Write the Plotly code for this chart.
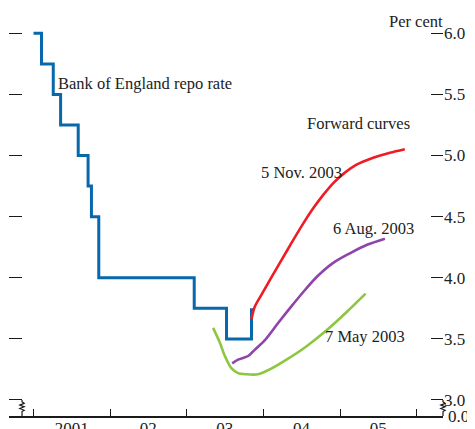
import plotly.graph_objects as go

# Bank of England repo rate (step changes)
repo_dates = ["2001-01-01", "2001-02-08", "2001-04-05", "2001-05-10", "2001-08-02",
              "2001-09-18", "2001-10-04", "2001-11-08", "2003-02-06", "2003-07-10",
              "2003-11-06"]
repo_rate = [6.00, 5.75, 5.50, 5.25, 5.00, 4.75, 4.50, 4.00, 3.75, 3.50, 3.75]

# Forward curves
nov_dates = ["2003-11-06", "2003-11-21", "2003-12-30", "2004-02-11", "2004-03-30",
             "2004-05-08", "2004-07-10", "2004-08-27", "2004-10-14", "2004-11-30",
             "2005-01-17", "2005-03-21", "2005-06-08", "2005-08-27", "2005-11-06"]
nov_vals = [3.66, 3.76, 3.88, 4.01, 4.15, 4.265, 4.445, 4.57, 4.68, 4.775,
            4.85, 4.925, 4.982, 5.023, 5.052]

aug_dates = ["2003-08-06", "2003-09-03", "2003-10-21", "2003-11-21", "2004-01-09",
             "2004-03-12", "2004-05-16", "2004-07-18", "2004-09-14", "2004-11-28",
             "2005-02-17", "2005-05-10", "2005-08-03"]
aug_vals = [3.30, 3.33, 3.36, 3.41, 3.49, 3.63, 3.77, 3.90, 4.01, 4.12, 4.20, 4.27, 4.32]

may_dates = ["2003-05-07", "2003-06-08", "2003-07-02", "2003-08-02", "2003-09-03",
             "2003-10-13", "2003-12-07", "2004-02-01", "2004-04-21", "2004-07-26",
             "2004-10-29", "2005-02-02", "2005-05-03"]
may_vals = [3.59, 3.47, 3.36, 3.26, 3.22, 3.21, 3.21, 3.25, 3.33, 3.44, 3.57, 3.72, 3.87]

year_ticks = ["2001-01-01", "2002-01-01", "2003-01-01", "2004-01-01", "2005-01-01", "2006-01-01"]
label_pos = ["2001-07-02", "2002-07-02", "2003-07-02", "2004-07-02", "2005-07-02"]
label_text = ["2001", "02", "03", "04", "05"]
y_ticks = [3.0, 3.5, 4.0, 4.5, 5.0, 5.5, 6.0]
y_text = ["3.0", "3.5", "4.0", "4.5", "5.0", "5.5", "6.0"]

FONT = "Liberation Serif"
TXT = "#222222"
BLUE = "#0868AC"
RED = "#EE1C25"
PURPLE = "#8E44A8"
GREEN = "#8DC63F"

fig = go.Figure()
fig.add_trace(go.Scatter(x=repo_dates, y=repo_rate, mode="lines", line_shape="hv",
                         line=dict(color=BLUE, width=3), hoverinfo="skip"))
fig.add_trace(go.Scatter(x=may_dates, y=may_vals, mode="lines", line_shape="spline",
                         line=dict(color=GREEN, width=2.6, smoothing=0.8), hoverinfo="skip"))
fig.add_trace(go.Scatter(x=aug_dates, y=aug_vals, mode="lines", line_shape="spline",
                         line=dict(color=PURPLE, width=2.6, smoothing=0.8), hoverinfo="skip"))
fig.add_trace(go.Scatter(x=nov_dates, y=nov_vals, mode="lines", line_shape="spline",
                         line=dict(color=RED, width=2.6, smoothing=0.8), hoverinfo="skip"))
# invisible trace for left-side ticks
fig.add_trace(go.Scatter(x=[repo_dates[0]], y=[repo_rate[0]], yaxis="y2", mode="markers",
                         marker=dict(opacity=0), hoverinfo="skip"))

YMIN, YMAX = 2.869, 6.109

# the page body adds an 8px offset, margins compensate for it
fig.update_layout(
    width=475, height=429,
    margin=dict(l=1, r=40, t=12, b=21, autoexpand=False),
    paper_bgcolor="white", plot_bgcolor="white",
    showlegend=False,
    font=dict(family=FONT, size=16, color=TXT),
    xaxis=dict(type="date", range=["2000-09-06", "2006-05-07"], automargin=False,
               showgrid=False, zeroline=False,
               showline=True, linecolor="#1a1a1a", linewidth=1.5,
               tickmode="array", tickvals=label_pos, ticktext=label_text, ticks="",
               ticklabelstandoff=-4,
               tickfont=dict(family=FONT, size=17, color=TXT),
               minor=dict(tickmode="array", tickvals=year_ticks, ticks="inside",
                          ticklen=7, tickwidth=1.3, tickcolor="#1a1a1a", showgrid=False)),
    yaxis=dict(range=[YMIN, YMAX], side="right", showgrid=False, zeroline=False,
               automargin=False,
               showline=False, tickmode="array", tickvals=y_ticks, ticktext=y_text,
               ticks="inside", ticklen=12, tickwidth=1.3, tickcolor="#1a1a1a",
               tickfont=dict(family=FONT, size=17, color=TXT)),
    yaxis2=dict(range=[YMIN, YMAX], overlaying="y", side="left", showgrid=False,
                automargin=False,
                zeroline=False, showline=False, tickmode="array", tickvals=y_ticks,
                ticks="inside", ticklen=13, tickwidth=1.3, tickcolor="#1a1a1a",
                showticklabels=False),
)

# axis break zigzags
def zig(x0, dx):
    pts = [(x0, 3.0), (x0, 2.985), (x0 + dx, 2.972), (x0 - dx, 2.958), (x0 + dx, 2.944),
           (x0 - dx, 2.930), (x0 + dx, 2.916), (x0, 2.905), (x0, YMIN)]
    return "M " + " L ".join(f"{a},{b}" for a, b in pts)

fig.add_shape(type="path", xref="paper", yref="y", path=zig(0.030, 0.005),
              line=dict(color="#1a1a1a", width=1.2))
fig.add_shape(type="path", xref="paper", yref="y", path=zig(1.0, 0.005),
              line=dict(color="#1a1a1a", width=1.2))

ann = [
    ("2001-04-27", 5.59, "Bank of England repo rate"),
    ("2004-07-27", 5.264, "Forward curves"),
    ("2003-12-23", 4.863, "5 Nov. 2003"),
    ("2004-11-27", 4.406, "6 Aug. 2003"),
    ("2004-10-21", 3.519, "7 May 2003"),
]
for x, y, t in ann:
    fig.add_annotation(x=x, y=y, text=t, showarrow=False, xanchor="left", yanchor="middle",
                       font=dict(family=FONT, size=16.5, color=TXT), xshift=-2)

fig.add_annotation(xref="paper", yref="paper", x=1.005, y=0.997, text="Per cent",
                   showarrow=False, xanchor="right", yanchor="middle",
                   font=dict(family=FONT, size=16.5, color=TXT))
fig.add_annotation(xref="paper", yref="y", x=1.0, y=YMIN, text="0.0", showarrow=False,
                   xanchor="left", yanchor="middle", xshift=3,
                   font=dict(family=FONT, size=17, color=TXT))

fig.write_html("out.html")
